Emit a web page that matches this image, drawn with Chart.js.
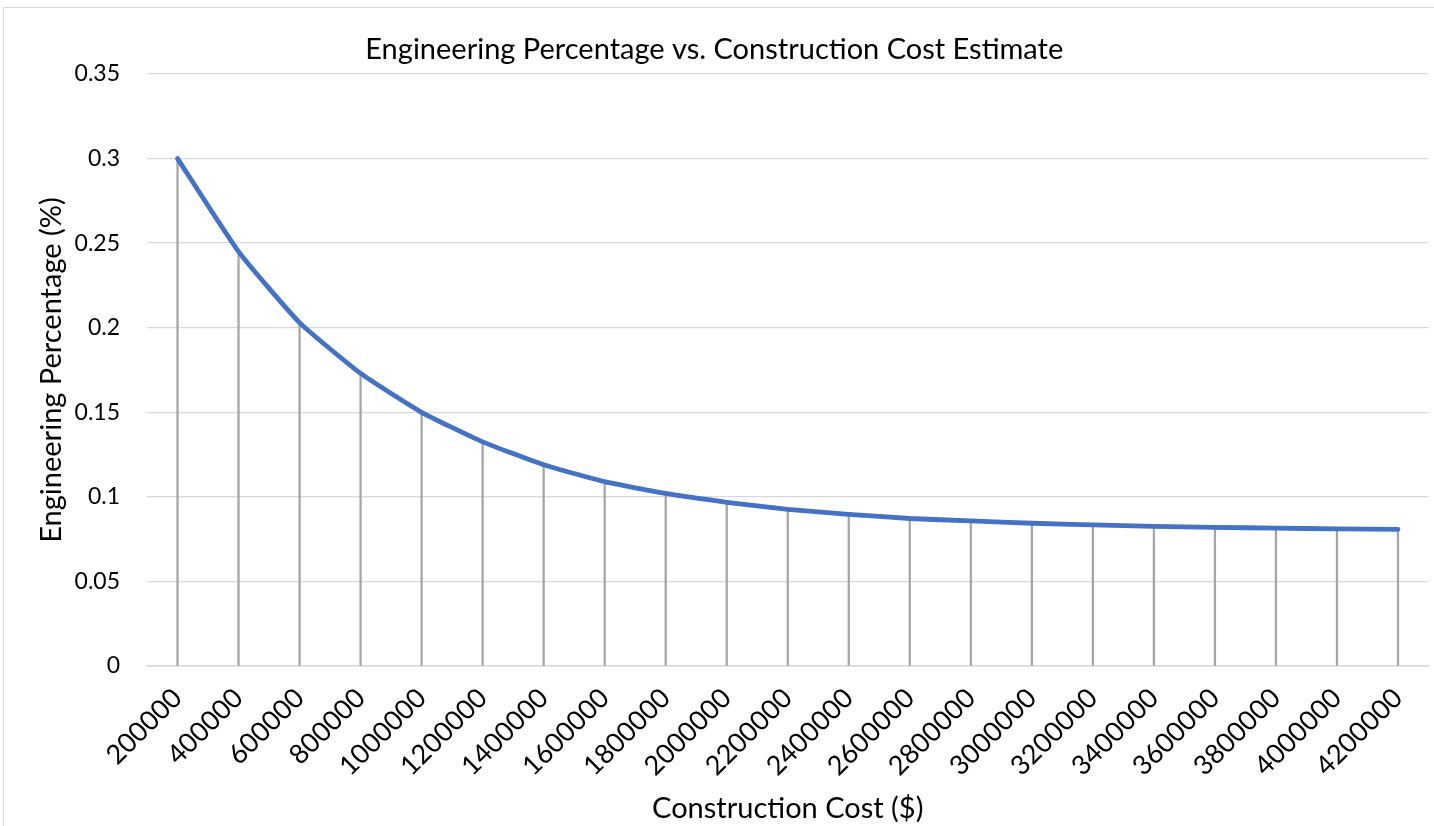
<!DOCTYPE html>
<html>
<head>
<meta charset="utf-8">
<script src="https://cdn.jsdelivr.net/npm/chart.js@4.4.0/dist/chart.umd.min.js"></script>
<style>
  html, body { margin: 0; padding: 0; background: #fff; overflow: hidden; }
  #frame { position: absolute; left: 3px; top: 7px; width: 1440px; height: 830px; border: 1px solid #d9d9d9; }
  #chart { position: absolute; left: 0; top: 0; }
</style>
</head>
<body>
<div id="frame"></div>
<canvas id="chart" width="1434" height="826"></canvas>
<script>
// construction cost categories ($)
const costLabels = [
  "200000", "400000", "600000", "800000", "1000000", "1200000", "1400000",
  "1600000", "1800000", "2000000", "2200000", "2400000", "2600000", "2800000",
  "3000000", "3200000", "3400000", "3600000", "3800000", "4000000", "4200000",
];

// engineering percentage
const engPercent = [
  0.300, 0.245, 0.203, 0.173, 0.150, 0.1325, 0.119, 0.109, 0.102, 0.0968,
  0.0926, 0.0897, 0.0872, 0.0858, 0.0844, 0.0834, 0.0826, 0.0820, 0.0815,
  0.0811, 0.0808,
];

const FONT = "Lato";
const yTickFont = { family: FONT, size: 23 };
const xTickFont = { family: FONT, size: 27 };
const axisTitleFont = { family: FONT, size: 29, weight: "normal", lineHeight: 1.2 };
const chartTitleFont = { family: FONT, size: 29, weight: "normal", lineHeight: 1.2 };

const ctx = document.getElementById("chart").getContext("2d");
new Chart(ctx, {
  type: "bar",
  data: {
    labels: costLabels,
    datasets: [
      {
        // main curve
        type: "line",
        label: "Engineering Percentage",
        data: engPercent,
        borderColor: "#4472c4",
        borderWidth: 4.8,
        borderCapStyle: "round",
        borderJoinStyle: "round",
        pointRadius: 0,
        tension: 0.15,
        fill: false,
        order: 1,
      },
      {
        // drop lines down to the axis
        type: "bar",
        label: "drop",
        data: engPercent,
        backgroundColor: "#a5a5a5",
        barThickness: 1.6,
        order: 2,
      },
    ],
  },
  options: {
    responsive: false,
    animation: false,
    layout: { padding: { left: 0, right: 5.5, top: 0, bottom: 0 } },
    plugins: {
      legend: { display: false },
      tooltip: { enabled: false },
      title: {
        display: true,
        text: "Engineering Percentage vs. Construction Cost Estimate",
        color: "#000",
        font: chartTitleFont,
        padding: { top: 32.6, bottom: 6.6 },
      },
    },
    scales: {
      x: {
        offset: true,
        grid: { display: false, drawTicks: false },
        border: { display: true, color: "#d9d9d9", width: 1.5 },
        ticks: {
          autoSkip: false,
          minRotation: 45,
          maxRotation: 45,
          padding: 16,
          color: "#000",
          font: xTickFont,
        },
        title: {
          display: true,
          text: "Construction Cost ($)",
          color: "#000",
          font: axisTitleFont,
          padding: { top: 0, bottom: 0 },
        },
        afterFit(scale) {
          scale.height = 160;
          // labels end at the tick, no extra room needed on the sides
          scale.paddingLeft = 0;
          scale.paddingRight = 0;
        },
      },
      y: {
        min: 0,
        max: 0.35,
        grid: { color: "#d9d9d9", lineWidth: 1.3, drawTicks: false },
        border: { display: false },
        ticks: {
          stepSize: 0.05,
          padding: 27,
          color: "#000",
          font: yTickFont,
          callback: (v) => String(Number(v.toFixed(2))),
        },
        title: {
          display: true,
          text: "Engineering Percentage (%)",
          color: "#000",
          font: axisTitleFont,
          padding: { top: 34.6, bottom: 0 },
        },
        afterFit(scale) { scale.width = 147; },
      },
    },
  },
});
</script>
</body>
</html>
